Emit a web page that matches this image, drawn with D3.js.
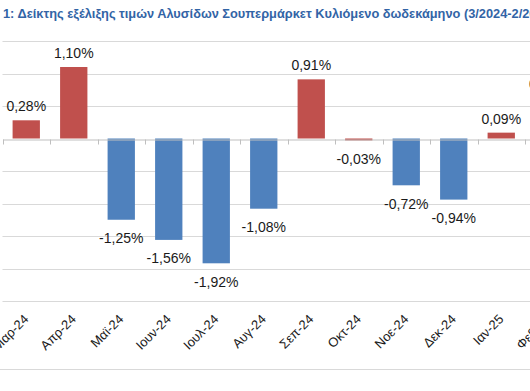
<!DOCTYPE html>
<html>
<head>
<meta charset="utf-8">
<script src="https://cdn.jsdelivr.net/npm/d3@7"></script>
<style>
    body { margin: 0; background: #fff; }
    svg { display: block; font-family: "Liberation Sans", Arial, sans-serif; }
</style>
</head>
<body>
<svg id="chart" width="530" height="391"></svg>
<script>
var months = ["Μαρ-24","Απρ-24","Μαϊ-24","Ιουν-24","Ιουλ-24","Αυγ-24","Σεπ-24","Οκτ-24","Νοε-24","Δεκ-24","Ιαν-25","Φεβ-25"];
var changes = [0.28, 1.10, -1.25, -1.56, -1.92, -1.08, 0.91, -0.03, -0.72, -0.94, 0.09, 0.63];
// bar colours as in the original (the tiny october bar is drawn red there too)
var barColors = ["#c0504d","#c0504d","#4f81bd","#4f81bd","#4f81bd","#4f81bd","#c0504d","#c0504d","#4f81bd","#4f81bd","#c0504d","#c0504d"];
var yTicks = [1.5, 1.0, 0.5, 0, -0.5, -1.0, -1.5, -2.0, -2.5];

var titlePrefix = "Γράφημα ";
var titleText = "1: Δείκτης εξέλιξης τιμών Αλυσίδων Σουπερμάρκετ Κυλιόμενο δωδεκάμηνο (3/2024-2/2025)";

var locale = d3.formatLocale({decimal: ",", thousands: ".", grouping: [3], currency: ["", "€"], minus: "-"});
var fmt = locale.format(".2f");

var svg = d3.select("#chart");

// plot area runs past the right edge, the picture is a crop
var x = d3.scaleBand()
    .domain(months)
    .range([2.5, 572.5])
    .paddingInner(0.425)
    .paddingOuter(0.2125);

var y = d3.scaleLinear()
    .domain([-2.5, 1.5])
    .range([301, 41]);

// title - sized so that "1: ... (3/2024-2/2" spans the visible width
var title = svg.append("text")
    .attr("y", 18)
    .attr("font-size", "12px")
    .attr("font-weight", "bold")
    .attr("fill", "#3264a6");
var pre = title.append("tspan").text(titlePrefix);
var main = title.append("tspan").text(titleText);
var visibleChars = titleText.indexOf("2/2025") + 3;
var visibleLen = main.node().getSubStringLength(0, visibleChars);
var fs = 12 * 527 / visibleLen;
title.attr("font-size", fs + "px");
var preLen = pre.node().getComputedTextLength();
title.attr("x", 3 - preLen);

// gridlines
svg.append("g")
    .selectAll("line")
    .data(yTicks.filter(d => d != 0))
    .enter()
    .append("line")
    .attr("x1", x.range()[0])
    .attr("x2", x.range()[1])
    .attr("y1", d => Math.round(y(d)) + 0.5)
    .attr("y2", d => Math.round(y(d)) + 0.5)
    .attr("stroke", "#d9d9d9")
    .attr("stroke-width", 1);

// bars
svg.append("g")
    .selectAll("rect")
    .data(months)
    .enter()
    .append("rect")
    .attr("x", d => x(d))
    .attr("width", x.bandwidth())
    .attr("y", (d, i) => y(Math.max(0, changes[i])))
    .attr("height", (d, i) => Math.max(1.5, Math.abs(y(changes[i]) - y(0))))
    .attr("fill", (d, i) => barColors[i]);

// zero axis with ticks on band edges
var axis = d3.axisBottom(x).tickSize(0).tickFormat("");
var axisG = svg.append("g")
    .attr("transform", "translate(0," + (Math.round(y(0)) + 0.5) + ")")
    .call(axis);
axisG.select(".domain").attr("stroke", "#bfbfbf");
axisG.selectAll(".edge")
    .data(d3.range(months.length + 1))
    .enter()
    .append("line")
    .attr("class", "edge")
    .attr("x1", i => Math.round(x.range()[0] + i * x.step()) + 0.5)
    .attr("x2", i => Math.round(x.range()[0] + i * x.step()) + 0.5)
    .attr("y1", 0)
    .attr("y2", 5)
    .attr("stroke", "#bfbfbf");

// value labels
svg.append("g")
    .selectAll("text")
    .data(months)
    .enter()
    .append("text")
    .attr("x", d => x(d) + x.bandwidth() / 2)
    .attr("y", (d, i) => changes[i] >= 0 ? y(changes[i]) - 9 : y(changes[i]) + 23.5)
    .attr("text-anchor", "middle")
    .attr("font-size", "14px")
    .attr("fill", "#1a1a1a")
    .text((d, i) => fmt(changes[i]) + "%");

// month labels at the bottom, rotated
svg.append("g")
    .selectAll("text")
    .data(months)
    .enter()
    .append("text")
    .attr("transform", d => "translate(" + (x(d) + x.bandwidth() / 2 + 3) + ",320) rotate(-45)")
    .attr("text-anchor", "end")
    .attr("font-size", "13px")
    .attr("fill", "#1a1a1a")
    .text(d => d);

// chart frame bottom
svg.append("line")
    .attr("x1", 0)
    .attr("x2", 530)
    .attr("y1", 369.5)
    .attr("y2", 369.5)
    .attr("stroke", "#d9d9d9");
</script>
</body>
</html>
